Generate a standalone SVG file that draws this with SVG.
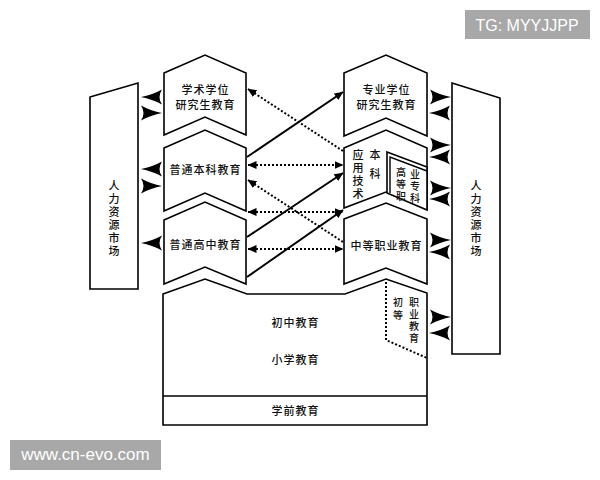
<svg xmlns="http://www.w3.org/2000/svg" xmlns:xlink="http://www.w3.org/1999/xlink" width="600" height="480" viewBox="0 0 600 480">
<style>
.sh{fill:#fff;stroke:#000;stroke-width:1.6;stroke-linejoin:miter}
.t{font-family:"Noto Sans CJK SC","Noto Sans",sans-serif;font-size:11px;font-weight:500;fill:#111;text-anchor:middle;letter-spacing:1px}
.v{font-family:"Noto Sans CJK SC","Noto Sans",sans-serif;font-size:11px;font-weight:500;fill:#111;text-anchor:middle}
.s{font-size:10px}
.solid{stroke:#000;stroke-width:2;fill:none}
.dot{stroke:#000;stroke-width:2;fill:none;stroke-dasharray:2 2}
.wm{font-family:"Liberation Sans",Arial,sans-serif;fill:#fff;text-anchor:middle}
</style>
<defs>
<marker id="m" viewBox="0 0 9 8" refX="8.5" refY="4" markerWidth="9" markerHeight="8" markerUnits="userSpaceOnUse" orient="auto-start-reverse">
<path d="M0,0 L9,4 L0,8 Z" fill="#000"/>
</marker>
<path id="ah" d="M0,0 Q11,-2 21,-7.5 Q16,0 21,7.5 Q11,2 0,0 Z" fill="#000"/>
</defs>

<rect x="0" y="0" width="600" height="480" fill="#fff"/>

<g id="market-left">
<polygon class="sh" points="90,97 138,83 138,289 90,289"/>
<text class="v" x="114" y="190">人</text>
<text class="v" x="114" y="203">力</text>
<text class="v" x="114" y="216">资</text>
<text class="v" x="114" y="229">源</text>
<text class="v" x="114" y="242">市</text>
<text class="v" x="114" y="255">场</text>
</g>

<g id="market-right">
<polygon class="sh" points="452,83 500,98 500,354 452,354"/>
<text class="v" x="476" y="190">人</text>
<text class="v" x="476" y="203">力</text>
<text class="v" x="476" y="216">资</text>
<text class="v" x="476" y="229">源</text>
<text class="v" x="476" y="242">市</text>
<text class="v" x="476" y="255">场</text>
</g>

<g id="xueshu">
<polygon class="sh" points="164,73 205,55 246,73 246,135 205,117 164,135"/>
<text class="t" x="205.5" y="93.5">学术学位</text>
<text class="t" x="205.5" y="108.5">研究生教育</text>
</g>

<g id="benke">
<polygon class="sh" points="164,148 205,130 246,148 246,211 205,193 164,211"/>
<text class="t" x="205.5" y="174">普通本科教育</text>
</g>

<g id="gaozhong">
<polygon class="sh" points="164,220 205,202 246,220 246,284 205,267 164,284"/>
<text class="t" x="205.5" y="249">普通高中教育</text>
</g>

<g id="zhuanye">
<polygon class="sh" points="344,73 386,55 427,73 427,136 386,118 344,136"/>
<text class="t" x="386.5" y="93.5">专业学位</text>
<text class="t" x="386.5" y="108.5">研究生教育</text>
</g>

<g id="yingyong">
<polygon class="sh" points="344,148 386,130 427,148 427,209 386,192 344,208"/>
<text class="v" x="358" y="159">应</text>
<text class="v" x="358" y="172">用</text>
<text class="v" x="358" y="185">技</text>
<text class="v" x="358" y="198">术</text>
<text class="v" x="375" y="159">本</text>
<text class="v" x="375" y="178">科</text>
</g>

<g id="gaozhi">
<polygon class="sh" points="387,152 427,167 427,210 387,193"/>
<polyline points="390,193 390,157 427,171" fill="none" stroke="#000" stroke-width="1.4"/>
<text class="v s" x="401" y="176">高</text>
<text class="v s" x="401" y="188">等</text>
<text class="v s" x="401" y="200">职</text>
<text class="v s" x="415" y="178">业</text>
<text class="v s" x="415" y="190">专</text>
<text class="v s" x="415" y="202">科</text>
</g>

<g id="zhongzhi">
<polygon class="sh" points="344,219 386,203 427,219 427,284 386,268 344,284"/>
<text class="t" x="386.5" y="250">中等职业教育</text>
</g>

<g id="lower">
<polygon class="sh" points="163,294 205,279 247,294 345,294 386,279 427,293 427,425 163,425"/>
<line x1="163" y1="396" x2="427" y2="396" stroke="#000" stroke-width="1.6"/>
<text class="t" x="295.5" y="327">初中教育</text>
<text class="t" x="295.5" y="364">小学教育</text>
<text class="t" x="295.5" y="415">学前教育</text>
</g>

<g id="chudeng">
<polyline class="dot" points="386,282 386,340 427,358"/>
<text class="v s" x="398" y="306">初</text>
<text class="v s" x="398" y="319">等</text>
<text class="v s" x="414" y="306">职</text>
<text class="v s" x="414" y="318">业</text>
<text class="v s" x="414" y="330">教</text>
<text class="v s" x="414" y="342">育</text>
</g>

<g id="connectors">
<line class="dot" x1="343" y1="151" x2="248" y2="89" marker-end="url(#m)"/>
<line class="solid" x1="247" y1="157" x2="343" y2="92" marker-end="url(#m)"/>
<line class="dot" x1="248" y1="165" x2="343" y2="165" marker-start="url(#m)" marker-end="url(#m)"/>
<line class="solid" x1="247" y1="237" x2="343" y2="173" marker-end="url(#m)"/>
<line class="dot" x1="343" y1="242" x2="248" y2="180" marker-end="url(#m)"/>
<line class="dot" x1="248" y1="212" x2="343" y2="212" marker-start="url(#m)" marker-end="url(#m)"/>
<line class="solid" x1="247" y1="277" x2="343" y2="210" marker-end="url(#m)"/>
<line class="dot" x1="248" y1="249" x2="343" y2="249" marker-start="url(#m)" marker-end="url(#m)"/>

<use xlink:href="#ah" transform="translate(141,97)"/>
<use xlink:href="#ah" transform="translate(162,113) scale(-1,1)"/>
<use xlink:href="#ah" transform="translate(141,169)"/>
<use xlink:href="#ah" transform="translate(162,186) scale(-1,1)"/>
<use xlink:href="#ah" transform="translate(141,243)"/>

<use xlink:href="#ah" transform="translate(451,97) scale(-1,1)"/>
<use xlink:href="#ah" transform="translate(429,113)"/>
<use xlink:href="#ah" transform="translate(451,145) scale(-1,1)"/>
<use xlink:href="#ah" transform="translate(429,157)"/>
<use xlink:href="#ah" transform="translate(451,188) scale(-1,1)"/>
<use xlink:href="#ah" transform="translate(429,199)"/>
<use xlink:href="#ah" transform="translate(451,240) scale(-1,1)"/>
<use xlink:href="#ah" transform="translate(429,252)"/>
<use xlink:href="#ah" transform="translate(451,317) scale(-1,1)"/>
<use xlink:href="#ah" transform="translate(429,333)"/>
</g>

<g id="watermarks">
<rect x="465" y="10" width="125" height="29" fill="#a8a8a8"/>
<text class="wm" x="527" y="31" font-size="16">TG: MYYJJPP</text>
<rect x="10" y="440" width="151" height="30" fill="#a8a8a8"/>
<text class="wm" x="85.5" y="460" font-size="17">www.cn-evo.com</text>
</g>
</svg>
